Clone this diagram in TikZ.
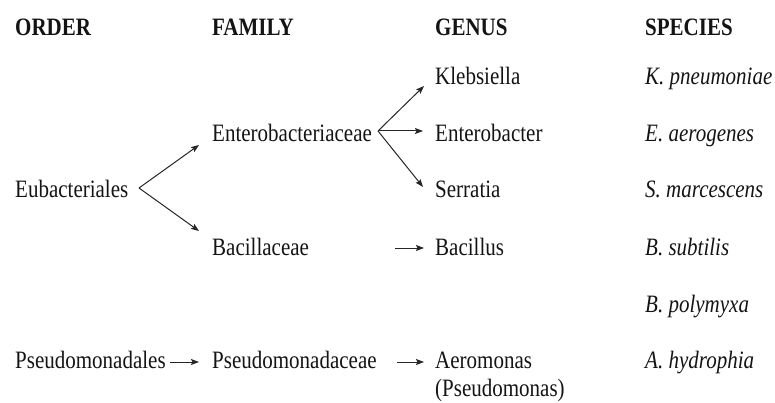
\documentclass[tikz,border=0pt]{standalone}
\usepackage{fontspec}
\setmainfont{Liberation Serif}[FakeStretch=0.84]
\usetikzlibrary{arrows.meta,calc}
\begin{document}
\begin{tikzpicture}[x=1pt,y=-1pt,
  lbl/.style={anchor=base west,inner sep=0pt,font=\fontsize{25}{29}\selectfont,text=black!92},
  hdr/.style={lbl,font=\fontsize{25}{29}\selectfont\bfseries},
  spc/.style={lbl,font=\fontsize{25}{29}\selectfont\itshape},
  arr/.style={draw=black!85,line width=1pt,-{Stealth[length=8pt,width=6pt,inset=1.5pt]}}]
\useasboundingbox (0,0) rectangle (775,403);
% headers
\node[hdr] (hord) at (15,36) {ORDER};
\node[hdr] (hfam) at (212,36) {FAMILY};
\node[hdr] (hgen) at (435,36) {GENUS};
\node[hdr] (hspe) at (645,36) {SPECIES};
% order
\node[lbl] (eub) at (15,198) {Eubacteriales};
\node[lbl] (pso) at (15,368) {Pseudomonadales};
% family
\node[lbl] (ent) at (212,142) {Enterobacteriaceae};
\node[lbl] (bac) at (212,255) {Bacillaceae};
\node[lbl] (psf) at (212,368) {Pseudomonadaceae};
% genus
\node[lbl] (kle) at (435,85) {Klebsiella};
\node[lbl] (enb) at (435,142) {Enterobacter};
\node[lbl] (ser) at (435,198) {Serratia};
\node[lbl] (bcl) at (435,255) {Bacillus};
\node[lbl] (aer) at (435,368) {Aeromonas};
\node[lbl] (psg) at (435,396) {(Pseudomonas)};
% species
\node[spc] (kpn) at (645,85) {K. pneumoniae};
\node[spc] (eae) at (645,142) {E. aerogenes};
\node[spc] (sma) at (645,198) {S. marcescens};
\node[spc] (bsu) at (645,255) {B. subtilis};
\node[spc] (bpo) at (645,312) {B. polymyxa};
\node[spc] (ahy) at (645,368) {A. hydrophia};
% branch points
\coordinate (v1) at (139,188);
\coordinate (v2) at (378,131);
% connectors
\draw[arr] (v1) -- ($(ent.base west)+(-13,3)$);
\draw[arr] (v1) -- ($(bac.base west)+(-13,-24)$);
\draw[arr] (v2) -- ($(kle.base west)+(-11,1)$);
\draw[arr] (v2) -- ($(enb.base west)+(-12,-11)$);
\draw[arr] (v2) -- ($(ser.base west)+(-12,-11)$);
\draw[arr] ($(bcl.base west)+(-40,-7)$) -- ($(bcl.base west)+(-11,-7)$);
\draw[arr] ($(psf.base west)+(-42,-6)$) -- ($(psf.base west)+(-13,-6)$);
\draw[arr] ($(aer.base west)+(-38,-6)$) -- ($(aer.base west)+(-11,-6)$);
\end{tikzpicture}
\end{document}
